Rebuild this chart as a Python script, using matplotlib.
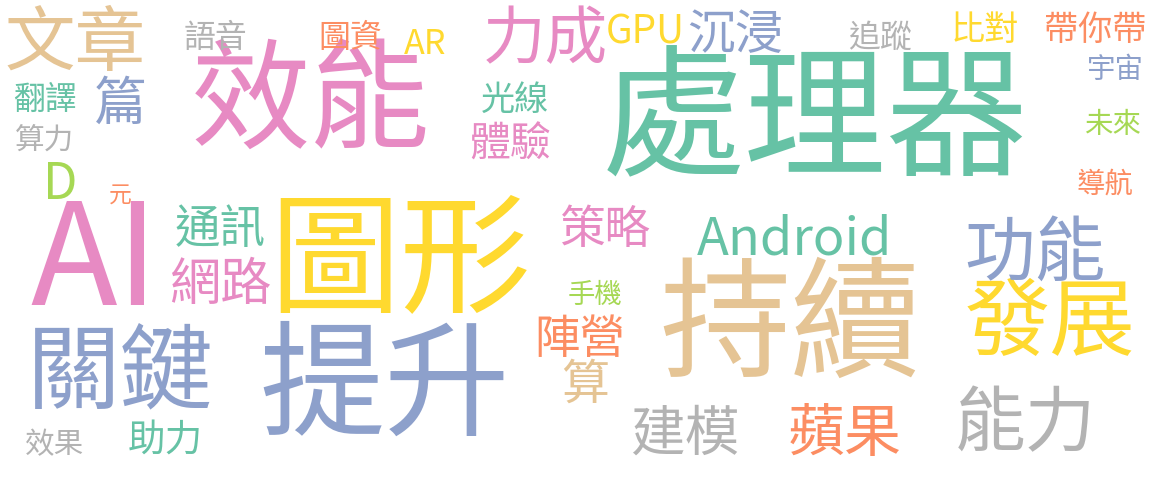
import matplotlib
matplotlib.use("Agg")
import matplotlib.pyplot as plt

words = ["處理器","效能","AI","圖形","持續","提升","關鍵","發展","文章","力成",
         "沉浸","GPU","語音","圖資","AR","追蹤","比對","帶你帶","宇宙","翻譯",
         "篇","算力","D","元","光線","體驗","未來","導航","策略","Android",
         "功能","通訊","網路","手機","陣營","算","建模","蘋果","能力","助力","效果"]
xs = [815,310,95,400,790,385,120,1050,75,545,
      735,645,215,350,425,880,985,1095,1115,45,
      120,45,60,120,515,510,1113,1105,605,795,
      1035,220,220,595,580,585,685,845,1025,165,55]
ys = [125,105,265,265,330,390,375,325,45,40,
      35,32,38,38,45,38,30,30,70,100,
      105,140,185,195,100,145,125,185,230,240,
      255,230,285,295,340,385,435,435,425,440,445]
sizes = [125,105,125,115,115,110,82,75,62,55,
         42,34,28,28,30,28,30,30,25,28,
         46,26,44,20,30,36,25,25,40,46,
         62,40,45,24,40,42,48,50,62,33,26]
colors = ["#66c2a5","#e78ac3","#e78ac3","#ffd92f","#e5c494","#8da0cb","#8da0cb","#ffd92f","#e5c494","#e78ac3",
          "#8da0cb","#ffd92f","#b3b3b3","#fc8d62","#ffd92f","#b3b3b3","#ffd92f","#fc8d62","#8da0cb","#66c2a5",
          "#8da0cb","#b3b3b3","#a6d854","#fc8d62","#66c2a5","#e78ac3","#a6d854","#fc8d62","#e78ac3","#66c2a5",
          "#8da0cb","#66c2a5","#e78ac3","#a6d854","#fc8d62","#e5c494","#b3b3b3","#fc8d62","#b3b3b3","#66c2a5","#b3b3b3"]

fig = plt.figure(figsize=(11.75, 4.82), dpi=100)
ax = fig.add_axes([0, 0, 1, 1])
ax.set_xlim(0, 1175)
ax.set_ylim(482, 0)
ax.axis("off")
for w, x, y, s, c in zip(words, xs, ys, sizes, colors):
    ax.text(x, y, w, fontsize=s * 0.82, color=c, ha="center", va="center",
            family=["Noto Sans CJK TC", "DejaVu Sans"])
fig.savefig("out.png", dpi=100, facecolor="white")
